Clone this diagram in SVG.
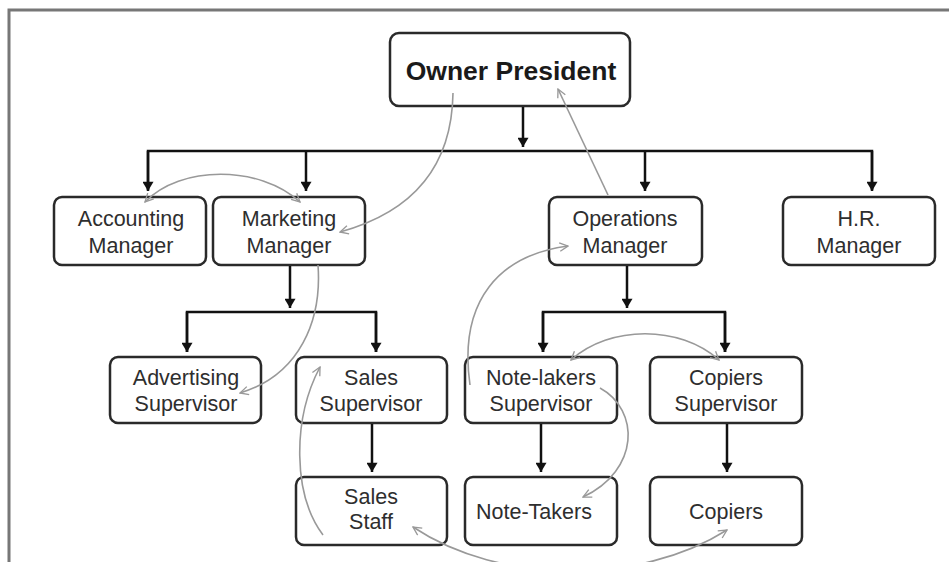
<svg xmlns="http://www.w3.org/2000/svg" width="949" height="562" viewBox="0 0 949 562">
<style>
.box{fill:#fff;stroke:#2a2a2a;stroke-width:2.5}
.t{font-family:"Liberation Sans",Arial,sans-serif;font-size:21.5px;fill:#2e2e2e;text-anchor:middle}
.tb{font-family:"Liberation Sans",Arial,sans-serif;font-size:26.5px;font-weight:bold;fill:#1a1a1a;text-anchor:middle}
.k{fill:none;stroke:#111;stroke-width:2.5}
.g{fill:none;stroke:#999;stroke-width:1.6}
</style>
<defs>
<marker id="ah" viewBox="0 0 10 12" refX="10" refY="6" markerWidth="5" markerHeight="4.4" orient="auto" markerUnits="strokeWidth">
<path d="M0,0 L10,6 L0,12 z" fill="#111"/>
</marker>
<marker id="gh" viewBox="0 0 12 12" refX="11" refY="6" markerWidth="10" markerHeight="10" orient="auto-start-reverse" markerUnits="userSpaceOnUse">
<path d="M1,1 L11,6 L1,11" fill="none" stroke="#999" stroke-width="1.6"/>
</marker>
</defs>
<rect width="949" height="562" fill="#fff"/>
<path d="M9,562 V10 H949" fill="none" stroke="#777" stroke-width="3"/>

<g id="owner-president"><rect class="box" x="390" y="33" width="240" height="73" rx="9"/><text class="tb" x="511" y="80">Owner President</text></g>
<g id="accounting-manager"><rect class="box" x="54" y="197" width="152" height="68" rx="8"/><text class="t" x="131" y="226">Accounting</text><text class="t" x="131" y="253">Manager</text></g>
<g id="marketing-manager"><rect class="box" x="213" y="197" width="152" height="68" rx="8"/><text class="t" x="289" y="226">Marketing</text><text class="t" x="289" y="253">Manager</text></g>
<g id="operations-manager"><rect class="box" x="549" y="197" width="153" height="68" rx="8"/><text class="t" x="625" y="226">Operations</text><text class="t" x="625" y="253">Manager</text></g>
<g id="hr-manager"><rect class="box" x="783" y="197" width="152" height="68" rx="8"/><text class="t" x="859" y="226">H.R.</text><text class="t" x="859" y="253">Manager</text></g>
<g id="advertising-supervisor"><rect class="box" x="110" y="357" width="151" height="66" rx="8"/><text class="t" x="186" y="385">Advertising</text><text class="t" x="186" y="411">Supervisor</text></g>
<g id="sales-supervisor"><rect class="box" x="296" y="357" width="151" height="66" rx="8"/><text class="t" x="371" y="385">Sales</text><text class="t" x="371" y="411">Supervisor</text></g>
<g id="note-takers-supervisor"><rect class="box" x="465" y="357" width="152" height="66" rx="8"/><text class="t" x="541" y="385">Note-lakers</text><text class="t" x="541" y="411">Supervisor</text></g>
<g id="copiers-supervisor"><rect class="box" x="650" y="357" width="152" height="66" rx="8"/><text class="t" x="726" y="385">Copiers</text><text class="t" x="726" y="411">Supervisor</text></g>
<g id="sales-staff"><rect class="box" x="296" y="477" width="151" height="68" rx="8"/><text class="t" x="371" y="504">Sales</text><text class="t" x="371" y="529">Staff</text></g>
<g id="note-takers"><rect class="box" x="465" y="477" width="152" height="68" rx="8"/><text class="t" x="534" y="519">Note-Takers</text></g>
<g id="copiers"><rect class="box" x="650" y="477" width="152" height="68" rx="8"/><text class="t" x="726" y="519">Copiers</text></g>

<g id="connectors">
<path class="k" d="M523,107 V147" marker-end="url(#ah)"/>
<path class="k" d="M148,190 V151 H872 V190"/>
<path class="k" d="M148,151 V191" marker-end="url(#ah)"/>
<path class="k" d="M306,151 V191" marker-end="url(#ah)"/>
<path class="k" d="M645,151 V191" marker-end="url(#ah)"/>
<path class="k" d="M872,151 V191" marker-end="url(#ah)"/>
<path class="k" d="M290,266 V308" marker-end="url(#ah)"/>
<path class="k" d="M187,352 V312 H376 V352"/>
<path class="k" d="M187,312 V352" marker-end="url(#ah)"/>
<path class="k" d="M376,312 V352" marker-end="url(#ah)"/>
<path class="k" d="M627,266 V308" marker-end="url(#ah)"/>
<path class="k" d="M543,352 V312 H725 V352"/>
<path class="k" d="M543,312 V352" marker-end="url(#ah)"/>
<path class="k" d="M725,312 V352" marker-end="url(#ah)"/>
<path class="k" d="M372,424 V472" marker-end="url(#ah)"/>
<path class="k" d="M541,424 V472" marker-end="url(#ah)"/>
<path class="k" d="M727,424 V472" marker-end="url(#ah)"/>

<path class="g" d="M453,93 C452,160 420,210 340,232" marker-end="url(#gh)"/>
<path class="g" d="M145,202 C180,165 260,165 300,202" marker-start="url(#gh)" marker-end="url(#gh)"/>
<path class="g" d="M318,265 C322,320 300,375 240,393" marker-end="url(#gh)"/>
<path class="g" d="M323,535 C293,495 292,420 320,367" marker-end="url(#gh)"/>
<path class="g" d="M608,195 L558,89" marker-end="url(#gh)"/>
<path class="g" d="M470,385 C458,300 500,255 568,246" marker-end="url(#gh)"/>
<path class="g" d="M571,360 C610,325 680,325 719,360" marker-start="url(#gh)" marker-end="url(#gh)"/>
<path class="g" d="M600,388 C640,410 640,470 583,497" marker-end="url(#gh)"/>
<path class="g" d="M413,527 C500,585 640,585 727,530" marker-start="url(#gh)" marker-end="url(#gh)"/>
</g>
</svg>
